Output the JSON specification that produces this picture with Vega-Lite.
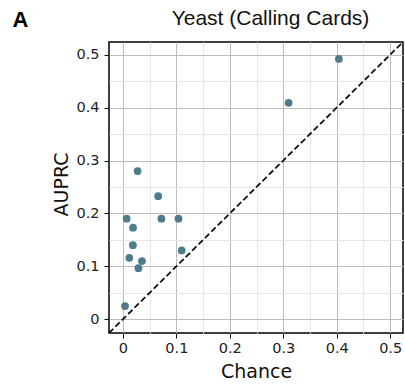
{
  "$schema": "https://vega.github.io/schema/vega-lite/v6.json",
  "autosize": "none",
  "width": 294,
  "height": 291,
  "padding": {"left": 109, "top": 42, "right": 2, "bottom": 57},
  "background": "white",
  "config": {
    "view": {"stroke": "black", "strokeWidth": 1.5},
    "axis": {
      "labelFont": "DejaVu Sans",
      "labelFontSize": 14.5,
      "labelColor": "#222222",
      "titleFont": "DejaVu Sans",
      "titleFontSize": 19,
      "titleFontWeight": "normal",
      "titleColor": "#111111",
      "tickColor": "#111111",
      "tickSize": 5,
      "tickWidth": 1,
      "domain": false
    }
  },
  "resolve": {"axis": {"x": "independent", "y": "independent"}},
  "layer": [
    {
      "data": {"values": [
        {"chance": -0.026, "auprc": -0.026},
        {"chance": 0.524, "auprc": 0.524}
      ]},
      "mark": {"type": "line", "color": "#111111", "strokeWidth": 1.8, "strokeDash": [6, 3], "clip": true},
      "encoding": {
        "x": {
          "field": "chance", "type": "quantitative",
          "scale": {"domain": [-0.026, 0.524], "nice": false, "zero": false},
          "axis": {
            "orient": "top",
            "values": [0.05, 0.15, 0.25, 0.35, 0.45],
            "grid": true, "gridColor": "#e6e6e6", "gridWidth": 1,
            "ticks": false, "labels": false,
            "title": "Yeast (Calling Cards)",
            "titleFont": "Liberation Sans", "titleFontSize": 21,
            "titleBaseline": "alphabetic", "titleAlign": "center",
            "titleX": 161, "titleY": -18
          }
        },
        "y": {
          "field": "auprc", "type": "quantitative",
          "scale": {"domain": [-0.026, 0.524], "nice": false, "zero": false},
          "axis": {
            "orient": "right",
            "values": [0.05, 0.15, 0.25, 0.35, 0.45],
            "grid": true, "gridColor": "#e6e6e6", "gridWidth": 1,
            "ticks": false, "labels": false,
            "title": "A",
            "titleFont": "Liberation Sans", "titleFontSize": 22, "titleFontWeight": "bold",
            "titleColor": "#000000",
            "titleAngle": 0, "titleBaseline": "alphabetic", "titleAlign": "left",
            "titleX": -391, "titleY": -16
          }
        }
      }
    },
    {
      "data": {"values": [
        {"chance": 0.004, "auprc": 0.025},
        {"chance": 0.0275, "auprc": 0.28},
        {"chance": 0.066, "auprc": 0.2325},
        {"chance": 0.007, "auprc": 0.19},
        {"chance": 0.072, "auprc": 0.19},
        {"chance": 0.104, "auprc": 0.19},
        {"chance": 0.019, "auprc": 0.173},
        {"chance": 0.0187, "auprc": 0.14},
        {"chance": 0.012, "auprc": 0.116},
        {"chance": 0.0356, "auprc": 0.11},
        {"chance": 0.029, "auprc": 0.0965},
        {"chance": 0.11, "auprc": 0.13},
        {"chance": 0.31, "auprc": 0.409},
        {"chance": 0.404, "auprc": 0.492}
      ]},
      "mark": {"type": "circle", "size": 60, "color": "#4e7b8d", "opacity": 1},
      "encoding": {
        "x": {
          "field": "chance", "type": "quantitative",
          "axis": {
            "orient": "bottom",
            "values": [0, 0.1, 0.2, 0.3, 0.4, 0.5],
            "format": "~g",
            "grid": true, "gridColor": "#bdbdbd", "gridWidth": 1,
            "labelPadding": 3,
            "title": "Chance",
            "titleBaseline": "alphabetic", "titleAlign": "center",
            "titleX": 147, "titleY": 44
          }
        },
        "y": {
          "field": "auprc", "type": "quantitative",
          "axis": {
            "orient": "left",
            "values": [0, 0.1, 0.2, 0.3, 0.4, 0.5],
            "format": "~g",
            "grid": true, "gridColor": "#bdbdbd", "gridWidth": 1,
            "labelPadding": 5,
            "title": "AUPRC",
            "titleAngle": -90,
            "titleBaseline": "alphabetic", "titleAlign": "center",
            "titleX": -42, "titleY": 142
          }
        }
      }
    }
  ]
}
